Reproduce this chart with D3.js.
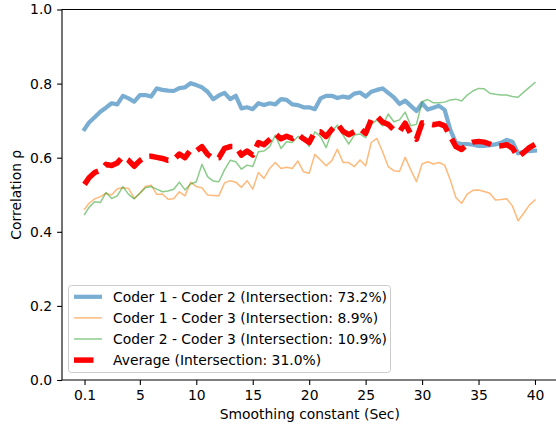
<!DOCTYPE html>
<html>
<head>
<meta charset="utf-8">
<script src="https://cdn.jsdelivr.net/npm/d3@7"></script>
<style>
  html, body { margin: 0; padding: 0; background: #fff; }
  svg text { font-family: "DejaVu Sans", sans-serif; fill: #000; }
</style>
</head>
<body>
<svg id="chart" width="556" height="425"></svg>
<script>
const xs = [0.1,0.5,1,1.5,2,2.5,3,3.5,4,4.5,5,5.5,6,6.5,7,7.5,8,8.5,9,9.5,10,10.5,11,11.5,12,12.5,13,13.5,14,14.5,15,15.5,16,16.5,17,17.5,18,18.5,19,19.5,20,20.5,21,21.5,22,22.5,23,23.5,24,24.5,25,25.5,26,26.5,27,27.5,28,28.5,29,29.5,30,30.5,31,31.5,32,32.5,33,33.5,34,34.5,35,35.5,36,36.5,37,37.5,38,38.5,39,39.5,40];

const coder12 = [.677,.695,.709,.724,.735,.747,.744,.767,.760,.751,
.769,.769,.765,.787,.783,.781,.780,.788,.790,.801,
.796,.790,.778,.758,.768,.775,.758,.767,.733,.736,
.731,.747,.742,.747,.744,.758,.756,.744,.742,.736,
.736,.731,.760,.767,.767,.761,.765,.762,.773,.776,
.765,.778,.783,.787,.775,.763,.745,.754,.740,.726,
.747,.730,.735,.740,.729,.675,.640,.637,.637,.635,
.632,.632,.634,.636,.640,.648,.643,.612,.616,.618,
.619];

const coder13 = [.461,.477,.489,.495,.504,.499,.516,.519,.517,.490,
.504,.522,.526,.501,.502,.488,.489,.508,.497,.534,
.522,.519,.499,.498,.497,.532,.538,.534,.520,.538,
.515,.560,.544,.571,.587,.571,.574,.571,.591,.562,
.558,.609,.594,.578,.592,.623,.587,.587,.576,.594,
.578,.641,.652,.616,.576,.565,.563,.601,.567,.535,
.583,.589,.583,.587,.580,.540,.492,.477,.502,.512,
.513,.509,.504,.486,.487,.489,.470,.430,.450,.472,
.486];

const coder23 = [.447,.466,.481,.479,.506,.490,.497,.522,.501,.489,
.504,.519,.522,.515,.508,.510,.515,.534,.513,.529,
.535,.582,.549,.537,.535,.567,.593,.589,.569,.580,
.576,.616,.618,.630,.661,.625,.643,.641,.657,.655,
.630,.670,.657,.627,.670,.688,.661,.637,.661,.664,
.654,.690,.702,.686,.718,.697,.702,.723,.686,.690,
.751,.757,.748,.748,.750,.756,.758,.753,.769,.780,
.787,.786,.774,.771,.769,.769,.765,.763,.777,.790,
.803];

const average = [.528,.546,.560,.566,.582,.579,.586,.603,.593,.577,
.592,.603,.604,.601,.598,.593,.595,.610,.600,.621,
.618,.630,.609,.598,.600,.625,.630,.630,.607,.618,
.607,.641,.635,.649,.664,.651,.658,.652,.663,.651,
.641,.670,.670,.657,.676,.691,.671,.662,.670,.678,
.666,.703,.712,.696,.690,.675,.670,.693,.664,.650,
.694,.692,.689,.692,.686,.657,.630,.622,.636,.642,
.644,.642,.637,.631,.632,.635,.626,.602,.614,.627,
.636];

const xTicks = [0.1, 5, 10, 15, 20, 25, 30, 35, 40];
const yTicks = [0.0, 0.2, 0.4, 0.6, 0.8, 1.0];
const labels = ["Coder 1 - Coder 2 (Intersection: 73.2%)",
                "Coder 1 - Coder 3 (Intersection: 8.9%)",
                "Coder 2 - Coder 3 (Intersection: 10.9%)",
                "Average (Intersection: 31.0%)"];

const styles = [
  {color: "#1f77b4", width: 4.2, opacity: 0.6, dash: null},
  {color: "#ff7f0e", width: 1.5, opacity: 0.55, dash: null},
  {color: "#2ca02c", width: 1.5, opacity: 0.55, dash: null},
  {color: "#ff0000", width: 5.5, opacity: 1, dash: "19.5,8.5"}
];
const series = [coder12, coder13, coder23, average];

const svg = d3.select("#chart");
const pL = 62, pR = 557.5, pT = 9.5, pB = 380;
const xMin = 0.1, xMax = 40, xPad = (xMax - xMin) * 0.05;
const x = d3.scaleLinear().domain([xMin - xPad, xMax + xPad]).range([pL, pR]);
const y = d3.scaleLinear().domain([0, 1]).range([pB, pT]);

svg.append("rect").attr("width", 556).attr("height", 425).attr("fill", "#fff");

// lines
series.forEach((vals, k) => {
  const st = styles[k];
  const line = d3.line().x((d, i) => x(xs[i])).y(d => y(d));
  const p = svg.append("path")
    .datum(vals)
    .attr("d", line)
    .attr("fill", "none")
    .attr("stroke", st.color)
    .attr("stroke-width", st.width)
    .attr("stroke-opacity", st.opacity)
    .attr("stroke-linejoin", "round")
    .attr("stroke-linecap", st.dash ? "butt" : "square");
  if (st.dash) p.attr("stroke-dasharray", st.dash);
});

// axes
const xAxis = d3.axisBottom(x).tickValues(xTicks).tickFormat(d => d === 0.1 ? "0.1" : d3.format("d")(d))
  .tickSizeInner(4.9).tickSizeOuter(0).tickPadding(4.9);
const yAxis = d3.axisLeft(y).tickValues(yTicks).tickFormat(d3.format(".1f"))
  .tickSizeInner(4.9).tickSizeOuter(0).tickPadding(4.9);

const gx = svg.append("g").attr("transform", `translate(0,${pB})`).call(xAxis);
const gy = svg.append("g").attr("transform", `translate(${pL},0)`).call(yAxis);
[gx, gy].forEach(g => {
  g.select(".domain").remove();
  g.selectAll(".tick line").attr("stroke", "#000").attr("stroke-width", 1.1);
  g.selectAll(".tick text").attr("font-size", "13.9px").attr("fill", "#000")
    .attr("font-family", "DejaVu Sans, sans-serif");
});

// frame (right spine lies just outside the canvas)
svg.append("path")
  .attr("d", `M${pR},${pT}H${pL}V${pB}H${pR}`)
  .attr("fill", "none").attr("stroke", "#000").attr("stroke-width", 1.1);

// axis labels
svg.append("text").attr("x", (pL + pR) / 2).attr("y", 419)
  .attr("text-anchor", "middle").attr("font-size", "13.9px").text("Smoothing constant (Sec)");
svg.append("text").attr("transform", `translate(21,${(pT + pB) / 2}) rotate(-90)`)
  .attr("text-anchor", "middle").attr("font-size", "13.9px").text("Correlation ρ");

// legend
const lg = svg.append("g");
lg.append("rect").attr("x", 68.5).attr("y", 285.5).attr("width", 322).attr("height", 87)
  .attr("rx", 3).attr("fill", "#fff").attr("fill-opacity", 0.8)
  .attr("stroke", "#cccccc").attr("stroke-width", 1);
labels.forEach((lab, k) => {
  const st = styles[k];
  const cy = 296.8 + k * 21.1;
  const l = lg.append("line").attr("x1", 74).attr("x2", 102).attr("y1", cy).attr("y2", cy)
    .attr("stroke", st.color).attr("stroke-width", st.width).attr("stroke-opacity", st.opacity);
  if (st.dash) l.attr("stroke-dasharray", st.dash);
  lg.append("text").attr("x", 113).attr("y", cy).attr("dy", "0.35em")
    .attr("font-size", "13.9px").text(lab);
});
</script>
</body>
</html>
